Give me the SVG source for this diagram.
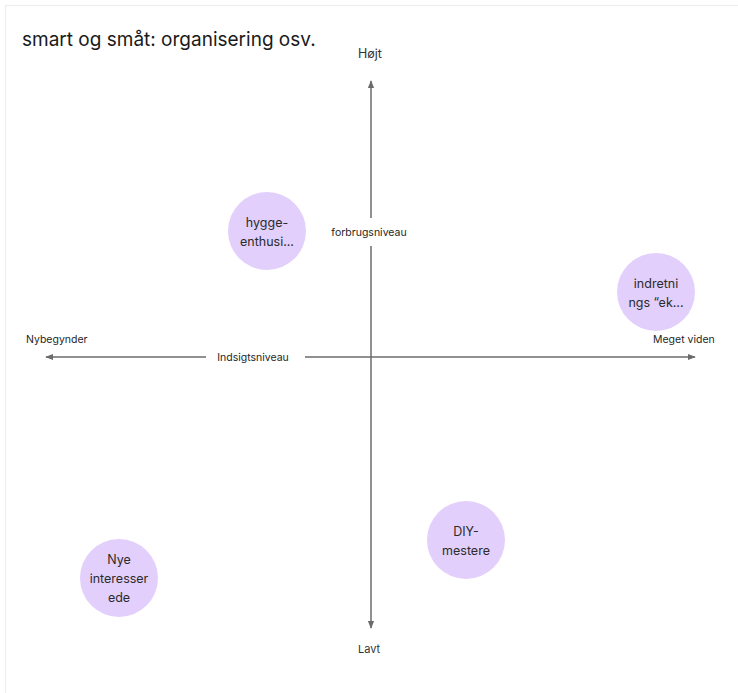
<svg xmlns="http://www.w3.org/2000/svg" width="738" height="693" viewBox="0 0 738 693">
<style>
.frame{fill:#ffffff;stroke:#ececec;stroke-width:1}
.axis{stroke:#6b6b6b;stroke-width:1.5;fill:none}
.node{fill:#e2cffc}
.nt{font-family:Inter,"Liberation Sans",sans-serif;font-size:12.5px;fill:#2b2b2b;text-anchor:middle;dominant-baseline:central}
.lbl{font-family:Inter,"Liberation Sans",sans-serif;font-size:10.5px;fill:#1f1f1f;dominant-baseline:central}
.end{font-family:Inter,"Liberation Sans",sans-serif;font-size:12.5px;fill:#333;text-anchor:middle;dominant-baseline:central}
.title{font-family:Inter,"Liberation Sans",sans-serif;font-size:19px;fill:#1a1a1a}
</style>
<defs>
<marker id="ah" viewBox="0 0 10 10" refX="9" refY="5" markerWidth="8" markerHeight="8" markerUnits="userSpaceOnUse" orient="auto">
<path d="M0,1 L10,5 L0,9 Z" fill="#6b6b6b"/>
</marker>
</defs>
<rect class="frame" x="5.5" y="5.5" width="740" height="700"/>
<text class="title" x="22" y="46">smart og småt: organisering osv.</text>
<g id="connectors">
<line class="axis" x1="371" y1="218" x2="371" y2="81" marker-end="url(#ah)"/>
<line class="axis" x1="371" y1="246" x2="371" y2="628" marker-end="url(#ah)"/>
<line class="axis" x1="206" y1="357" x2="46" y2="357" marker-end="url(#ah)"/>
<line class="axis" x1="305" y1="357" x2="695" y2="357" marker-end="url(#ah)"/>
</g>
<text class="end" x="370" y="53">Højt</text>
<text class="end" x="369" y="649" style="font-size:11px">Lavt</text>
<text class="lbl" x="369" y="232" text-anchor="middle">forbrugsniveau</text>
<text class="lbl" x="253" y="357" text-anchor="middle">Indsigtsniveau</text>
<text class="lbl" x="26" y="339">Nybegynder</text>
<text class="lbl" x="653" y="339">Meget viden</text>
<g id="hygge">
<circle class="node" cx="267" cy="231" r="39"/>
<text class="nt" x="267" y="222">hygge-</text>
<text class="nt" x="267" y="241">enthusi...</text>
</g>
<g id="indretning">
<circle class="node" cx="656" cy="292" r="39"/>
<text class="nt" x="656" y="283">indretni</text>
<text class="nt" x="656" y="302">ngs “ek...</text>
</g>
<g id="diy">
<circle class="node" cx="466" cy="540" r="39"/>
<text class="nt" x="466" y="531">DIY-</text>
<text class="nt" x="466" y="550">mestere</text>
</g>
<g id="nye">
<circle class="node" cx="119" cy="578" r="39"/>
<text class="nt" x="119" y="559">Nye</text>
<text class="nt" x="119" y="578">interesser</text>
<text class="nt" x="119" y="597">ede</text>
</g>
</svg>
